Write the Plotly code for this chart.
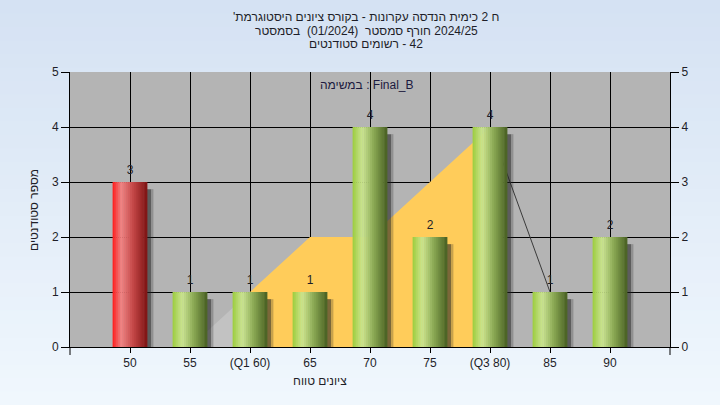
import plotly.graph_objects as go

# ---------------- data ----------------
categories = ["50", "55", "(Q1 60)", "65", "70", "75", "(Q3 80)", "85", "90"]
counts = [3, 1, 1, 1, 4, 2, 4, 1, 2]
bar_group = ["fail", "pass", "pass", "pass", "pass", "pass", "pass", "pass", "pass"]

# interquartile area (yellow) and its lead / tail segments
area_x = ["(Q1 60)", "65", "70", "75", "(Q3 80)"]
area_y = [1, 2, 2, 3, 4]
lead_x = ["55", "(Q1 60)"]
lead_y = [0, 1]
tail_x = ["(Q3 80)", "85"]
tail_y = [4, 1]

y_ticks = [0, 1, 2, 3, 4, 5]

# texts, written in the left-to-right word order in which the reference shows them
title_lines = [
    "'היסטוגרמת ציונים בקורס - עקרונות הנדסה כימית 2 ח",
    "בסמסטר  (01/2024)  סמסטר חורף 2024/25",
    "סטודנטים רשומים - 42",
]
legend_text = "במשימה : Final_B"
x_title = "טווח ציונים"
y_title = "מספר סטודנטים"

LRM = "\u200e"


def visual(s):
    # keep the words in the reference's left-to-right order
    s = s.replace("  ", "\u00a0 ")
    return LRM + s.replace(" ", LRM + " ")


def lerp(a, b, t):
    return tuple(int(round(a[k] + (b[k] - a[k]) * t)) for k in range(3))


def grad(stops, t):
    for (t0, c0), (t1, c1) in zip(stops, stops[1:]):
        if t <= t1:
            return "rgb(%d,%d,%d)" % lerp(c0, c1, (t - t0) / (t1 - t0))
    return "rgb(%d,%d,%d)" % stops[-1][1]


GREEN = [(0.0, (155, 205, 60)), (0.28, (203, 229, 145)), (0.6, (140, 170, 85)), (1.0, (72, 96, 34))]
RED = [(0.0, (255, 25, 25)), (0.25, (240, 130, 130)), (0.6, (195, 70, 70)), (1.0, (125, 20, 20))]

FONT = "Liberation Sans, Arial, DejaVu Sans, sans-serif"
TXT = "#1e1e28"

fig = go.Figure()

# ---- base subplot: interquartile area (over the grid, under the bars)
fig.add_trace(go.Scatter(x=lead_x, y=lead_y, mode="lines", fill="tozeroy",
                         fillcolor="rgb(194,194,194)", line=dict(width=0),
                         hoverinfo="skip", showlegend=False))
fig.add_trace(go.Scatter(x=area_x, y=area_y, mode="lines", fill="tozeroy",
                         fillcolor="rgb(255,204,90)", line=dict(width=0),
                         hoverinfo="skip", showlegend=False))
fig.add_trace(go.Scatter(x=tail_x, y=tail_y, mode="lines",
                         line=dict(color="#3a3a3a", width=1),
                         hoverinfo="skip", showlegend=False))

# ---- overlay subplot: shaded bars
BW = 0.58
N = 18
fig.add_trace(go.Bar(x=categories, y=[c - 0.13 for c in counts], width=0.07, offset=BW / 2 - 0.01,
                     marker=dict(color="rgba(35,35,35,0.6)", line_width=0),
                     xaxis="x2", yaxis="y2", hoverinfo="skip", showlegend=False))
fig.add_trace(go.Bar(x=categories, y=[c - 0.13 for c in counts], width=0.04, offset=BW / 2 + 0.06,
                     marker=dict(color="rgba(35,35,35,0.25)", line_width=0),
                     xaxis="x2", yaxis="y2", hoverinfo="skip", showlegend=False))
for i in range(N):
    t = (i + 0.5) / N
    cols = [grad(RED if g == "fail" else GREEN, t) for g in bar_group]
    w = BW / N * (1.2 if i < N - 1 else 1.0)
    fig.add_trace(go.Bar(x=categories, y=counts, width=w, offset=-BW / 2 + i * BW / N,
                         marker=dict(color=cols, line_width=0),
                         xaxis="x2", yaxis="y2", hoverinfo="skip", showlegend=False))

fig.add_trace(go.Scatter(x=categories, y=[c + 0.2 for c in counts], mode="text",
                         text=[str(c) for c in counts], textposition="middle center",
                         textfont=dict(size=12, color=TXT, family=FONT),
                         xaxis="x2", yaxis="y2", hoverinfo="skip", showlegend=False))

# ---------------- background (page gradient + plot area) ----------------
shapes = []
W, H = 720, 405
L, R, T, B = 70, 50, 72, 58
pw, ph = W - L - R, H - T - B
x_lo, x_hi = -L / pw, (W - L) / pw
y_lo, y_hi = -B / ph, 1 + T / ph
NS = 30
top_c, bot_c = (213, 226, 243), (240, 247, 253)
for k in range(NS):
    c = lerp(top_c, bot_c, k / (NS - 1))
    y1 = y_hi - (y_hi - y_lo) * k / NS
    y0 = y_hi - (y_hi - y_lo) * (k + 1) / NS - 0.01
    shapes.append(dict(type="rect", xref="paper", yref="paper", x0=x_lo, x1=x_hi, y0=y0, y1=y1,
                       fillcolor="rgb(%d,%d,%d)" % c, line=dict(width=0), layer="below"))
shapes.append(dict(type="rect", xref="paper", yref="paper", x0=0, x1=1, y0=0, y1=1,
                   fillcolor="rgb(180,180,180)", line=dict(width=0), layer="below"))
for xx in (0, 1):
    shapes.append(dict(type="line", xref="paper", yref="paper", x0=xx, x1=xx, y0=0, y1=-8 / ph,
                       line=dict(color="black", width=1)))

annotations = []
for j, line in enumerate(title_lines):
    annotations.append(dict(text=visual(line), xref="paper", yref="paper",
                            x=(366 - L) / pw, y=(H - B - (17.5 + 13 * j)) / ph,
                            xanchor="center", yanchor="middle", showarrow=False,
                            font=dict(size=12, color=TXT, family=FONT)))
annotations.append(dict(text=visual(legend_text), xref="paper", yref="paper",
                        x=(367 - L) / pw, y=(H - B - 85) / ph, xanchor="center", yanchor="middle",
                        showarrow=False, font=dict(size=12, color="#1c1a40", family=FONT)))
annotations.append(dict(text=visual(x_title), xref="paper", yref="paper",
                        x=(320 - L) / pw, y=(H - B - 381) / ph, xanchor="center", yanchor="middle",
                        showarrow=False, font=dict(size=12, color=TXT, family=FONT)))
annotations.append(dict(text=y_title, xref="paper", yref="paper", textangle=-90,
                        x=(34 - L) / pw, y=(H - B - 210) / ph, xanchor="center", yanchor="middle",
                        showarrow=False, font=dict(size=12, color=TXT, family=FONT)))

axis_common = dict(range=[-1, 9], type="category", categoryorder="array", categoryarray=categories)
fig.update_layout(
    width=W, height=H, autosize=False,
    margin=dict(l=L, r=R, t=T, b=B, pad=0),
    paper_bgcolor="rgb(228,238,250)",
    plot_bgcolor="rgb(180,180,180)",
    barmode="overlay",
    showlegend=False,
    font=dict(family=FONT, size=12, color=TXT),
    xaxis=dict(**axis_common, showgrid=True, gridcolor="black", gridwidth=1,
               showline=True, linecolor="black", linewidth=1, ticks="outside", ticklen=5,
               tickcolor="black", tickfont=dict(size=12, color=TXT), zeroline=False,
               fixedrange=True),
    xaxis2=dict(**axis_common, overlaying="x", visible=False, fixedrange=True),
    yaxis=dict(range=[0, 5], tickvals=y_ticks, showgrid=True, gridcolor="black", gridwidth=1,
               showline=True, linecolor="black", linewidth=1, ticks="outside", ticklen=8,
               tickcolor="black", tickfont=dict(size=12, color=TXT), zeroline=False,
               fixedrange=True),
    yaxis2=dict(range=[0, 5], tickvals=y_ticks, overlaying="y", side="right", showgrid=False,
                showline=True, linecolor="black", linewidth=1, ticks="outside", ticklen=8,
                tickcolor="black", tickfont=dict(size=12, color=TXT), zeroline=False,
                fixedrange=True),
    shapes=shapes,
    annotations=annotations,
)

fig.write_html("out.html", config={"displayModeBar": False},
               post_script="document.body.style.margin='0';document.body.style.overflow='hidden';")
